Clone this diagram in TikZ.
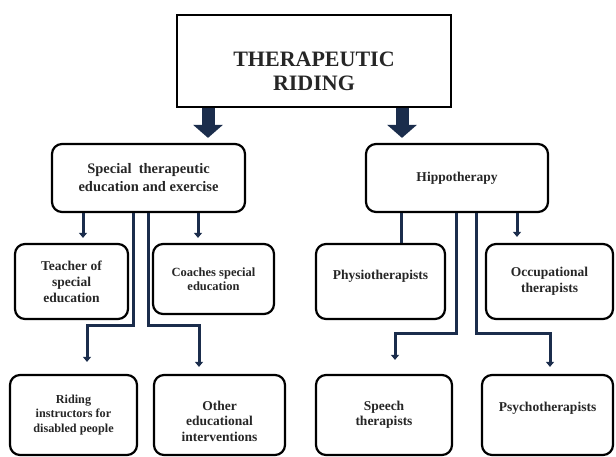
\documentclass[tikz,border=0pt]{standalone}
\usepackage{fontspec}
\setmainfont{Liberation Serif}
\usetikzlibrary{arrows.meta,positioning}
\definecolor{navy}{HTML}{1B2D4C}
\tikzset{
    rbox/.style={draw,line width=2.2pt,rounded corners=10pt,align=center,text=black!85},
    conn/.style={draw=navy,line width=3pt},
    tipped/.style={-{Triangle[width=8pt,length=5pt]}},
    bigarrow/.style={draw=navy,line width=13pt,-{Triangle[width=29pt,length=13pt]},shorten >=5pt}
}
\newcommand{\fs}[2]{\fontsize{#1}{#2}\selectfont\bfseries}
\begin{document}
\begin{tikzpicture}[x=1pt,y=-1pt]
    \useasboundingbox (0,0) rectangle (616,457);
    % main box
    \node[draw,line width=2.4pt,minimum width=274pt,minimum height=92pt] (top) at (314,61) {};
    \node[font=\fs{22}{24},align=center,text=black!85] (title) at (314,71) {THERAPEUTIC\\RIDING};
    % second level
    \node[rbox,minimum width=193pt,minimum height=68pt,font=\fs{14.5}{18}] (spec) at (148.5,178) {Special\ \ therapeutic\\education and exercise};
    \node[rbox,minimum width=182pt,minimum height=68pt,font=\fs{13.5}{16}] (hippo) at (457,178) {Hippotherapy};
    % third level
    \node[rbox,minimum width=113pt,minimum height=75pt,font=\fs{13.5}{16}] (teacher) at (71.5,281.5) {Teacher of\\special\\education};
    \node[rbox,minimum width=121pt,minimum height=70pt,font=\fs{12.5}{14}] (coaches) at (213.5,279) {Coaches special\\education};
    \node[rbox,minimum width=129pt,minimum height=75pt] (physio) at (380.5,281.5) {};
    \node[font=\fs{13.5}{16},text=black!85] (physiotext) at (380.5,276) {Physiotherapists};
    \node[rbox,minimum width=127pt,minimum height=75pt,font=\fs{13.5}{16}] (occup) at (549.5,281.5) {Occupational\\therapists};
    % fourth level
    \node[rbox,minimum width=127pt,minimum height=80pt,font=\fs{12.2}{14.5}] (riding) at (73.5,415) {Riding\\instructors for\\disabled people};
    \node[rbox,minimum width=131pt,minimum height=80pt] (other) at (219.5,415) {};
    \node[font=\fs{13.5}{15.5},align=center,text=black!85] (othertext) at (219.5,421) {Other\\educational\\interventions};
    \node[rbox,minimum width=136pt,minimum height=80pt,font=\fs{13.5}{15}] (speech) at (384,415) {Speech\\therapists};
    \node[rbox,minimum width=131pt,minimum height=80pt] (psycho) at (547.5,415) {};
    \node[font=\fs{13.5}{16},text=black!85] (psychotext) at (547.5,408) {Psychotherapists};
    % block arrows
    \draw[bigarrow] (208,0 |- top.south) -- (208,0 |- spec.north);
    \draw[bigarrow] (402,0 |- top.south) -- (402,0 |- hippo.north);
    % straight connectors
    \draw[conn,tipped,shorten >=5pt] (83,0 |- spec.south) -- (83,0 |- teacher.north);
    \draw[conn,tipped,shorten >=5pt] (198,0 |- spec.south) -- (198,0 |- coaches.north);
    \draw[conn] (401,0 |- hippo.south) -- (401,0 |- physio.north);
    \draw[conn,tipped,shorten >=6pt] (517,0 |- hippo.south) -- (517,0 |- occup.north);
    % elbow connectors
    \draw[conn,tipped,shorten >=12pt] (133,0 |- spec.south) |- (87,325) -- (87,0 |- riding.north);
    \draw[conn,tipped,shorten >=7pt] (148,0 |- spec.south) |- (199,325) -- (199,0 |- other.north);
    \draw[conn,tipped,shorten >=14pt] (456,0 |- hippo.south) |- (395,333) -- (395,0 |- speech.north);
    \draw[conn,tipped,shorten >=7pt] (476,0 |- hippo.south) |- (550,333) -- (550,0 |- psycho.north);
\end{tikzpicture}
\end{document}
